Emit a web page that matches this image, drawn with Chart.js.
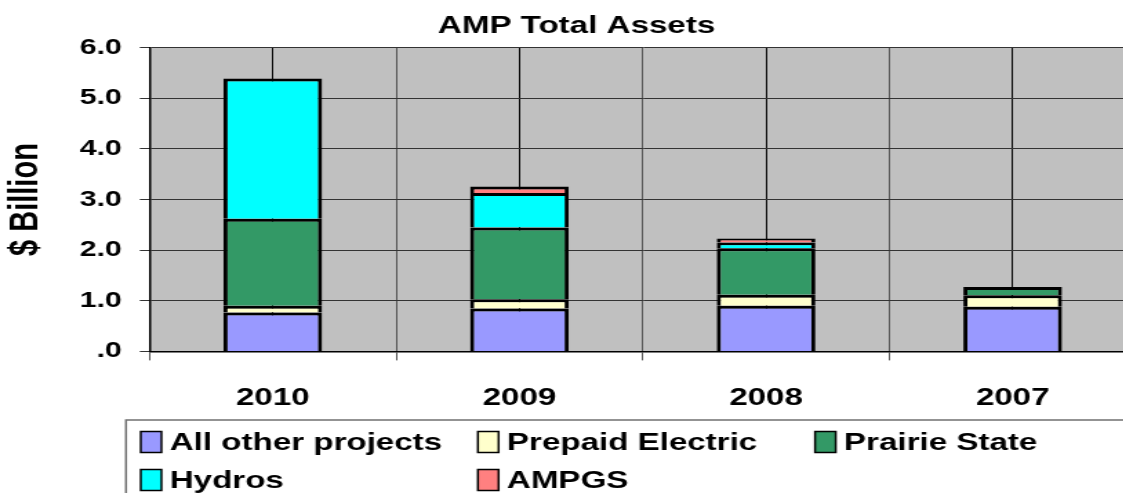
<!DOCTYPE html>
<html lang="en">
<head>
    <meta charset="UTF-8">
    <title>AMP Total Assets</title>
    <style>
        body {
            margin: 0;
            background: #fff;
            overflow: hidden;
        }

        /* the source picture is stretched sideways, so the whole chart is too */
        #wrap {
            width: 836px;
            height: 493px;
            transform: scaleX(1.38);
            transform-origin: 0 0;
        }
    </style>
    <script src="https://cdn.jsdelivr.net/npm/chart.js"></script>
</head>
<body>
    <div id="wrap">
        <canvas id="assetsChart" width="836" height="493"></canvas>
    </div>

    <script>
        // values in $ billion
        const years = ['2010', '2009', '2008', '2007'];
        const allOther = [0.77, 0.85, 0.90, 0.88];
        const prepaid = [0.13, 0.18, 0.22, 0.23];
        const prairie = [1.72, 1.42, 0.92, 0.16];
        const hydros = [2.77, 0.68, 0.11, 0];
        const ampgs = [0, 0.13, 0.08, 0];

        const seriesNames = ['All other projects', 'Prepaid Electric', 'Prairie State', 'Hydros', 'AMPGS'];
        const seriesColors = ['#9999FF', '#FFFFCC', '#339966', '#00FFFF', '#FF8080'];
        const seriesValues = [allOther, prepaid, prairie, hydros, ampgs];

        const FONT = '"Liberation Sans", Arial, sans-serif';

        // grey plot background
        const plotBackground = {
            id: 'plotBackground',
            beforeDraw(chart) {
                const { ctx, chartArea } = chart;
                ctx.save();
                ctx.fillStyle = '#C0C0C0';
                ctx.fillRect(chartArea.left, chartArea.top, chartArea.right - chartArea.left, chartArea.bottom - chartArea.top);
                ctx.restore();
            }
        };

        // boxed legend laid out in columns like the original
        const columnLegend = {
            id: 'columnLegend',
            afterDraw(chart) {
                const ctx = chart.ctx;
                ctx.save();
                ctx.strokeStyle = '#707070';
                ctx.lineWidth = 1.5;
                ctx.strokeRect(91.3, 420, chart.width, 100);
                ctx.font = 'bold 24px ' + FONT;
                ctx.textBaseline = 'middle';
                chart.data.datasets.forEach((ds, i) => {
                    const x = 102 + (i % 3) * 244.3;
                    const y = 442 + Math.floor(i / 3) * 38;
                    ctx.fillStyle = ds.backgroundColor;
                    ctx.fillRect(x, y - 10.5, 15, 21);
                    ctx.strokeStyle = '#000';
                    ctx.lineWidth = 1.5;
                    ctx.strokeRect(x, y - 10.5, 15, 21);
                    ctx.fillStyle = '#000';
                    ctx.fillText(ds.label, x + 21, y + 1);
                });
                ctx.restore();
            }
        };

        new Chart(document.getElementById('assetsChart'), {
            type: 'bar',
            data: {
                labels: years,
                datasets: seriesNames.map((name, i) => ({
                    label: name,
                    data: seriesValues[i],
                    backgroundColor: seriesColors[i],
                    borderColor: '#000',
                    borderWidth: 3,
                    categoryPercentage: 1,
                    barPercentage: 0.4
                }))
            },
            options: {
                responsive: false,
                devicePixelRatio: 1,
                animation: false,
                layout: {
                    padding: { left: 12.4, right: 12.8, top: 0, bottom: 56.6 }
                },
                plugins: {
                    legend: { display: false },
                    tooltip: { enabled: false },
                    title: {
                        display: true,
                        text: 'AMP Total Assets',
                        color: '#000',
                        font: { family: FONT, size: 24, weight: 'bold', lineHeight: 1.2 },
                        padding: { top: 11.6, bottom: 7.3 }
                    }
                },
                scales: {
                    x: {
                        stacked: true,
                        offset: true,
                        grid: {
                            offset: true,
                            color: '#555',
                            lineWidth: 1,
                            tickLength: 9
                        },
                        border: { color: '#000', width: 1.5 },
                        ticks: {
                            color: '#000',
                            padding: 23.6,
                            font: { family: FONT, size: 24, weight: 'bold', lineHeight: 1.2 }
                        }
                    },
                    x2: {
                        position: 'top',
                        offset: true,
                        grid: {
                            offset: false,
                            color: '#000',
                            lineWidth: 1,
                            drawTicks: false
                        },
                        border: { display: false },
                        ticks: { display: false }
                    },
                    y: {
                        stacked: true,
                        min: 0,
                        max: 6,
                        grid: {
                            color: '#333',
                            lineWidth: 1,
                            tickLength: 7
                        },
                        border: { color: '#000', width: 1.5 },
                        ticks: {
                            stepSize: 1,
                            color: '#000',
                            padding: 13,
                            font: { family: FONT, size: 22, weight: 'bold' },
                            callback: v => v === 0 ? '.0' : v.toFixed(1)
                        },
                        title: {
                            display: true,
                            text: '$ Billion',
                            color: '#000',
                            font: { family: FONT, size: 29, weight: 'bold', lineHeight: 1.2 },
                            padding: { top: -10.5, bottom: 8 }
                        }
                    }
                }
            },
            plugins: [plotBackground, columnLegend]
        });
    </script>
</body>
</html>
